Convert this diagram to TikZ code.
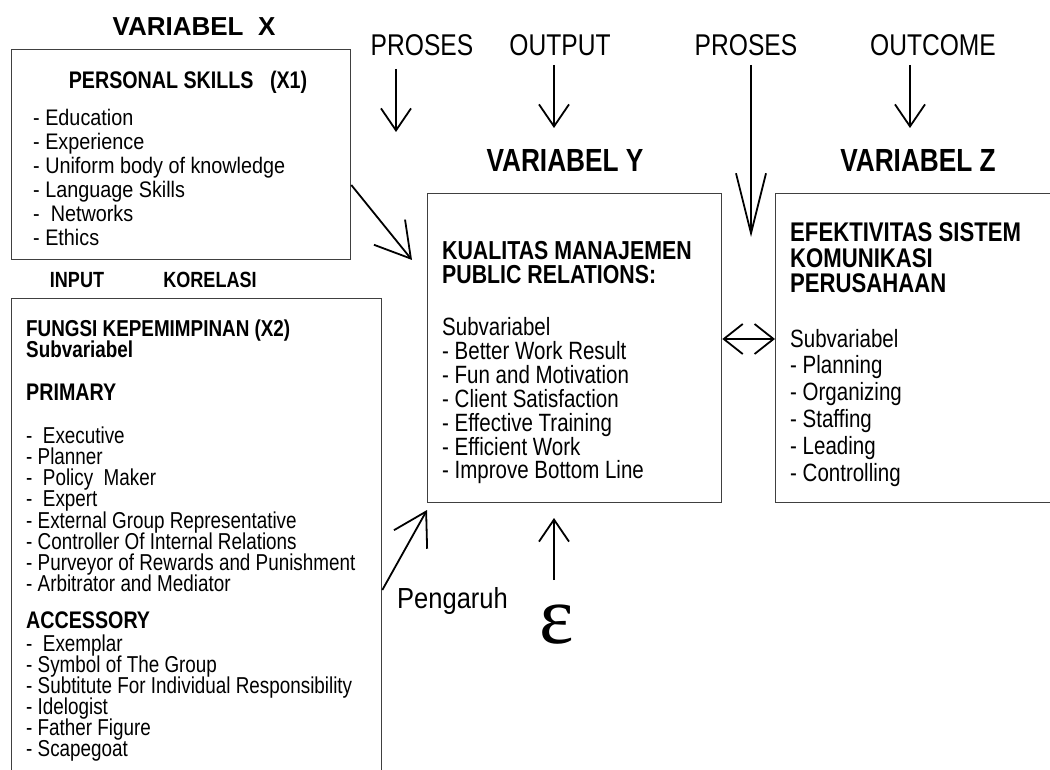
\documentclass[tikz,border=0pt]{standalone}
\usepackage{fontspec}
\setmainfont{Liberation Sans}[FakeStretch=0.82]
\newfontfamily\midfont{Liberation Sans}[FakeStretch=0.88]
\newfontfamily\widefont{Liberation Sans}
\newfontfamily\epsfont{Liberation Serif}
\usetikzlibrary{arrows.meta}

\tikzset{
  box/.style={draw=black!75, line width=1.3pt, anchor=north west, inner sep=0pt},
  lbl/.style={inner sep=0pt, text depth=0pt, anchor=west},
  itemx/.style={lbl, font=\midfont\fontsize{22.5}{22.5}\selectfont, text height=16.1pt},
  item/.style={lbl, font=\fontsize{23}{23}\selectfont, text height=16.5pt},
  itembold/.style={lbl, font=\bfseries\fontsize{23}{23}\selectfont, text height=16.5pt},
  boldmid/.style={lbl, font=\bfseries\fontsize{24}{24}\selectfont, text height=17.2pt},
  boldin/.style={lbl, anchor=center, font=\bfseries\fontsize{22}{22}\selectfont, text height=15.7pt},
  itemy/.style={lbl, font=\fontsize{25}{25}\selectfont, text height=17.9pt},
  boldy/.style={lbl, font=\bfseries\fontsize{26}{26}\selectfont, text height=18.6pt},
  boldz/.style={lbl, font=\bfseries\fontsize{27}{27}\selectfont, text height=19.3pt},
  head/.style={lbl, anchor=center, font=\fontsize{30}{30}\selectfont, text height=21.5pt},
  var/.style={lbl, anchor=center, font=\bfseries\fontsize{32}{32}\selectfont, text height=22.9pt},
  arr/.style={line width=1.8pt, -{Straight Barb[length=22pt,width=30pt]}},
}

\begin{document}
\begin{tikzpicture}[x=1pt,y=-1pt]
  \useasboundingbox (0,0) rectangle (1050,770);

  \node[box, minimum width=339pt, minimum height=210pt] (x1box) at (11,49) {};
  \node[box, minimum width=370pt, minimum height=480pt] (x2box) at (11,298) {};
  \node[box, minimum width=294pt, minimum height=309pt] (ybox) at (427,193) {};
  \node[box, minimum width=290pt, minimum height=309pt] (zbox) at (775,193) {};

  \node[var, font=\widefont\bfseries\fontsize{26}{26}\selectfont, text height=18.6pt] (varx) at (194,26) {VARIABEL\ \ X};
  \node[head] (proses1) at (422,45) {PROSES};
  \node[head] (output) at (560,45) {OUTPUT};
  \node[head] (proses2) at (746,45) {PROSES};
  \node[head] (outcome) at (933,45) {OUTCOME};
  \node[var] (vary) at (565,160) {VARIABEL Y};
  \node[var] (varz) at (918,160) {VARIABEL Z};

  \node[boldmid, anchor=center] (x1head) at (188,80) {PERSONAL SKILLS\ \ \ (X1)};
  \foreach \entry [count=\i from 0] in {- Education, - Experience, - Uniform body of knowledge,
      - Language Skills, -\ \ Networks, - Ethics}
    \node[itemx] at (33,117+24*\i) {\entry};

  \node[boldin] (input) at (77,280) {INPUT};
  \node[boldin] (korelasi) at (210,280) {KORELASI};

  \node[itembold] (x2head) at (26,328) {FUNGSI KEPEMIMPINAN (X2)};
  \node[itembold] (x2sub) at (26,349) {Subvariabel};
  \node[boldmid] (primary) at (26,392) {PRIMARY};
  \foreach \entry [count=\i from 0] in {-\ \ Executive, - Planner, -\ \ Policy\ \ Maker, -\ \ Expert,
      - External Group Representative, - Controller Of Internal Relations,
      - Purveyor of Rewards and Punishment, - Arbitrator and Mediator}
    \node[item] at (26,435+21.2*\i) {\entry};
  \node[boldmid] (accessory) at (26,620) {ACCESSORY};
  \foreach \entry [count=\i from 0] in {-\ \ Exemplar, - Symbol of The Group,
      - Subtitute For Individual Responsibility, - Idelogist, - Father Figure, - Scapegoat}
    \node[item] at (26,643+21*\i) {\entry};

  \node[boldy] (yhead1) at (442,250) {KUALITAS MANAJEMEN};
  \node[boldy] (yhead2) at (442,274) {PUBLIC RELATIONS:};
  \node[itemy] (ysub) at (442,327) {Subvariabel};
  \foreach \entry [count=\i from 0] in {- Better Work Result, - Fun and Motivation, - Client Satisfaction,
      - Effective Training, - Efficient Work, - Improve Bottom Line}
    \node[itemy] at (442,351+23.8*\i) {\entry};

  \node[boldz] (zhead1) at (790,232) {EFEKTIVITAS SISTEM};
  \node[boldz] (zhead2) at (790,258) {KOMUNIKASI};
  \node[boldz] (zhead3) at (790,283) {PERUSAHAAN};
  \node[itemy] (zsub) at (790,339) {Subvariabel};
  \foreach \entry [count=\i from 0] in {- Planning, - Organizing, - Staffing, - Leading, - Controlling}
    \node[itemy] at (790,365+26.8*\i) {\entry};

  \node[lbl, font=\midfont\fontsize{29}{29}\selectfont, text height=20.8pt] (pengaruh) at (397,598) {Pengaruh};
  \node[inner sep=0pt, font=\epsfont\fontsize{82}{82}\selectfont] (eps) at (557,625) {ε};

  \coordinate (p1top) at (396,69);   \coordinate (p1end) at (396,132);
  \coordinate (outtop) at (554,65);  \coordinate (outend) at (554,128);
  \coordinate (p2top) at (751,65);   \coordinate (p2end) at (751,237);
  \coordinate (octop) at (910,65);   \coordinate (ocend) at (910,128);
  \coordinate (epstop) at (554,580); \coordinate (epsend) at (554,518);
  \coordinate (x1end) at (412,260);  \coordinate (x2end) at (427,510);

  \draw[arr] (p1top) -- (p1end);
  \draw[arr] (outtop) -- (outend);
  \draw[arr, -{Straight Barb[length=60pt,width=30pt]}] (p2top) -- (p2end);
  \draw[arr] (octop) -- (ocend);
  \draw[arr] (epstop) -- (epsend);
  \draw[arr, -{Straight Barb[length=34pt,width=40pt]}] (x1box.east |- 0,185) -- (x1end);
  \draw[arr, -{Straight Barb[length=32pt,width=38pt]}] (x2box.east |- 0,590) -- (x2end);
  \draw[arr, {Straight Barb[length=19pt,width=30pt]}-{Straight Barb[length=19pt,width=30pt]}]
    (ybox.east |- 0,339) -- (zbox.west |- 0,339);
\end{tikzpicture}
\end{document}
